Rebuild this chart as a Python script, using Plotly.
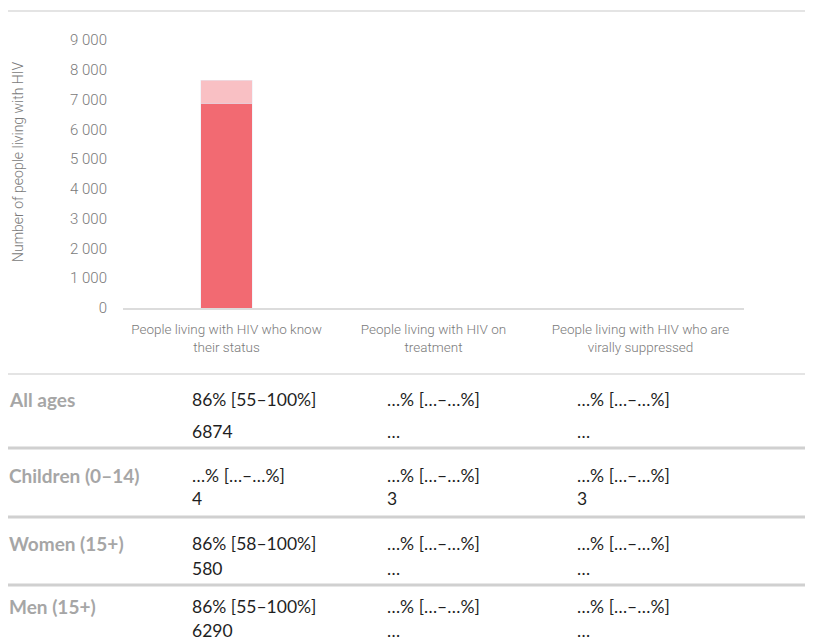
import plotly.graph_objects as go

# ---- data ----
categories = [
    "People living with HIV who know<br>their status",
    "People living with HIV on<br>treatment",
    "People living with HIV who are<br>virally suppressed",
]
known_values = [6874, 0, 0]          # dark segment
gap_values = [780, 0, 0]             # light segment on top
y_ticks = [0, 1000, 2000, 3000, 4000, 5000, 6000, 7000, 8000, 9000]
y_tick_labels = ["0", "1 000", "2 000", "3 000", "4 000", "5 000", "6 000", "7 000", "8 000", "9 000"]

row_labels = ["All ages", "Children (0–14)", "Women (15+)", "Men (15+)"]
row_pcts = [
    ["86% [55–100%]", "…% […–…%]", "…% […–…%]"],
    ["…% […–…%]", "…% […–…%]", "…% […–…%]"],
    ["86% [58–100%]", "…% […–…%]", "…% […–…%]"],
    ["86% [55–100%]", "…% […–…%]", "…% […–…%]"],
]
row_counts = [
    ["6874", "…", "…"],
    ["4", "3", "3"],
    ["580", "…", "…"],
    ["6290", "…", "…"],
]

# ---- layout geometry (screen pixels; page has an 8px body margin) ----
OFF = 8
W, H = 813 - OFF, 641 - OFF
L, R = 123 - OFF, 744 - OFF
T, B = 40 - OFF, 308 - OFF


def px(x):
    return (x - OFF - L) / (R - L)


def py(y):
    return (B - (y - OFF)) / (B - T)


fig = go.Figure()
fig.add_bar(x=categories, y=known_values, marker_color="#f26a72", width=0.25,
            hoverinfo="skip", showlegend=False)
fig.add_bar(x=categories, y=gap_values, marker_color="#f9c0c4", width=0.25,
            hoverinfo="skip", showlegend=False)

cond = "Roboto, DejaVu Sans Condensed, sans-serif"
tick_font = dict(family=cond, size=15, color="#7a7a7a", weight=300)
cat_font = dict(family=cond, size=13.5, color="#7a7a7a", weight=300)

fig.update_layout(
    width=W, height=H,
    margin=dict(l=L, r=W - R, t=T, b=H - B, pad=0),
    paper_bgcolor="white", plot_bgcolor="white",
    barmode="stack",
    xaxis=dict(showline=True, linecolor="#dcdcdc", linewidth=2, showgrid=False,
               ticks="", tickfont=cat_font, ticklabelstandoff=8, fixedrange=True),
    yaxis=dict(range=[0, 9000], tickvals=y_ticks, ticktext=y_tick_labels,
               showgrid=False, zeroline=False, showline=False, ticks="",
               tickfont=tick_font, ticklabelstandoff=15, fixedrange=True),
)

# y axis title
fig.add_annotation(x=px(18), y=py(162), xref="paper", yref="paper",
                   text="Number of people living with HIV", textangle=-90,
                   showarrow=False, xanchor="center", yanchor="middle",
                   font=dict(family=cond, size=14, color="#7a7a7a", weight=300))

# chart frame
fig.add_shape(type="rect", xref="paper", yref="paper",
              x0=px(2), x1=px(830), y0=py(374), y1=py(11),
              line=dict(color="#e4e4e4", width=2), fillcolor="rgba(0,0,0,0)", layer="below")

# table separators
for yy in [448, 517, 585]:
    fig.add_shape(type="line", xref="paper", yref="paper",
                  x0=px(0), x1=px(830), y0=py(yy), y1=py(yy),
                  line=dict(color="#d0d0d0", width=3))

row_label_y = [399, 475, 543, 606]
row_count_y = [431, 498, 568, 630]
col_x = [190, 385, 575]

label_font = dict(family="Lato, Noto Sans, sans-serif", size=19, color="#a6a6a6")
value_font = dict(family="Lato, Noto Sans, sans-serif", size=17.5, color="#1f1f1f")

for i, lab in enumerate(row_labels):
    fig.add_annotation(x=px(7), y=py(row_label_y[i]), xref="paper", yref="paper",
                       text="<b>" + lab + "</b>", showarrow=False,
                       xanchor="left", yanchor="middle", font=label_font)
    for j in range(3):
        fig.add_annotation(x=px(col_x[j]), y=py(row_label_y[i]), xref="paper", yref="paper",
                           text=row_pcts[i][j], showarrow=False,
                           xanchor="left", yanchor="middle", font=value_font)
        fig.add_annotation(x=px(col_x[j]), y=py(row_count_y[i]), xref="paper", yref="paper",
                           text=row_counts[i][j], showarrow=False,
                           xanchor="left", yanchor="middle", font=value_font)

fig.write_html("out.html", config={"displayModeBar": False})
